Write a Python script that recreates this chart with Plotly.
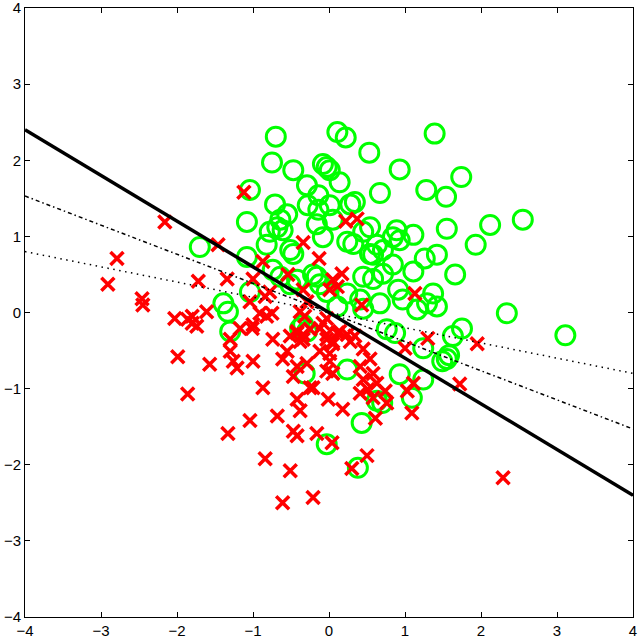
import plotly.graph_objects as go

# Class 1 (green circles)
green_x = [-0.70, 0.11, 0.22, 1.39, 0.53, -0.75, -0.47, -0.08, -0.03, 0.01, 0.93, 1.74, 0.14, -0.29,
           0.67, 1.28, 1.54, -1.04, -0.14, 0.34, -0.71, -0.28, -0.14, 0.01, 0.28, -0.55, -0.64, -0.68,
           -0.61, -1.08, -0.78, -0.16, 0.05, -0.08, -0.82, -0.51, -1.70, 0.24, -1.08, -0.74, -0.64, -0.42,
           -0.16, -1.39, 1.55, 2.12, 2.55, 1.93, 1.66, 1.11, 0.89, 0.84, 0.93, 0.54, 0.45, 0.63, 0.54,
           0.71, 1.42, 1.26, 0.84, 0.71, 0.58, 0.45, 1.11, 0.32, 1.37, 0.91, 2.34, 0.76, 0.87, 1.75,
           1.63, 1.24, 1.55, 1.49, 0.93, 1.24, 0.70, 1.09, 0.43, 0.38, 0.41, 0.67, 1.16, 1.42, 1.29,
           0.97, -1.33, -1.30, -0.32, -0.03, -0.38, -0.29, 0.11, 0.24, 3.11, -1.04, -0.51, -0.21, -0.12,
           -0.03, -0.34, 0.58, 0.24, 0.45, 0.63, -0.47, 1.58]
green_y = [2.31, 2.37, 2.30, 2.35, 2.10, 1.97, 1.87, 1.95, 1.91, 1.87, 1.88, 1.78, 1.71, 1.67,
           1.57, 1.61, 1.52, 1.61, 1.54, 1.45, 1.42, 1.41, 1.35, 1.41, 1.42, 1.29, 1.22, 1.12,
           1.08, 1.19, 1.06, 1.16, 1.22, 0.99, 0.89, 0.82, 0.86, 0.93, 0.73, 0.56, 0.47, 0.43,
           0.47, 0.12, 1.10, 1.15, 1.22, 0.89, 0.50, 1.02, 1.08, 0.99, 0.95, 1.12, 1.06, 0.89, 0.77,
           0.82, 0.76, 0.71, 0.63, 0.51, 0.44, 0.47, 0.54, 0.90, 0.25, 0.30, -0.01, -0.22, -0.27, -0.21,
           -0.31, -0.47, -0.61, -0.64, -0.81, -0.88, -1.19, -1.12, -1.45, -2.04, 0.17, 0.12, 0.04, 0.08, 0.12,
           0.17, 0.01, -0.25, -0.80, -1.73, -0.21, -0.25, 0.08, -0.75, -0.30, 0.27, 0.37, 0.50, 0.37,
           0.27, -0.16, 0.76, 0.25, 0.05, -1.16, 0.77, -0.56]

# Class 2 (red crosses)
red_x = [-1.12, -2.16, -1.46, -0.34, -0.13, -0.87, 0.22, 0.37, -2.79, -2.91, -1.72, -1.34, -2.46, -2.45,
         -2.03, -1.80, -1.80, -1.86, -1.74, -1.61, -1.04, -1.99, -1.57, -1.30, -1.26, -1.21, -1.00, -1.86,
         -1.00, -0.54, -0.78, -0.34, 0.05, 0.11, 0.01, 0.17, -1.17, -1.01, -1.30, -0.74, -0.75, -0.42,
         -0.34, -0.25, -0.61, -0.42, -0.47, -0.87, -0.25, -0.42, -0.38, -0.01, 0.05, 0.18, 0.01, 0.05,
         -0.03, 0.11, -0.68, -1.04, -1.33, -0.47, -0.42, -0.16, 0.04, -0.84, -0.51, 0.30, -0.61, -0.21,
         0.50, 0.43, 1.30, 1.95, 1.00, 1.72, 1.11, 1.03, 0.74, 0.76, 1.09, 0.61, 2.29, 0.34, 1.13,
         0.45, 0.54, 0.41, 0.58, 0.45, 0.63, 0.51, 0.41, 0.58, -0.84, -0.29, -0.38, -0.32, -0.03, -0.08,
         -0.91, -0.82, -1.00, -0.51, -0.42, -0.38, -0.34, -0.12, -0.03, 0.05, 0.14, 0.24, 0.28, -0.55,
         -0.29, -0.12, 0.01, -0.03, -0.21]
red_y = [1.58, 1.19, 0.89, 0.92, 0.71, 0.67, 1.20, 1.23, 0.71, 0.37, 0.41, 0.44, 0.18, 0.10,
         -0.08, -0.05, -0.14, -0.09, -0.18, 0.01, 0.14, -0.58, -0.68, -0.51, -0.64, -0.73, -0.64, -1.07,
         0.44, 0.50, 0.27, 0.30, 0.43, 0.34, 0.30, 0.51, -0.21, -0.21, -0.35, -0.35, -0.01, -0.27,
         -0.35, -0.22, -0.61, -0.71, -0.84, -0.99, -0.99, -1.14, -1.29, -1.14, -0.80, -1.27, -0.54, -0.41,
         -0.35, -0.27, -1.36, -1.42, -1.59, -1.56, -1.62, -1.59, -1.71, -1.92, -2.08, -2.05, -2.50, -2.43,
         -1.88, 0.10, -0.34, -0.41, -0.47, -0.94, -0.93, -1.03, -1.03, -1.19, -1.32, -1.39, -2.17, -0.31, 0.25,
         -0.48, -0.61, -0.71, -0.80, -0.88, -0.93, -1.01, -1.06, -1.12, 0.21, 0.14, 0.01, -0.05, -0.08, -0.14,
         -0.01, -0.05, -0.16, -0.31, -0.25, -0.38, -0.29, -0.21, -0.29, -0.38, -0.25, -0.29, -0.38, -0.51,
         -0.67, -0.51, -0.64, -0.77, -0.99]

# Decision lines (endpoints at x = -4 and x = 4)
line_x = [-4, 4]
solid_y = [2.4, -2.4]
dashdot_y = [1.53, -1.53]
dotted_y = [0.80, -0.80]

tick_vals = [-4, -3, -2, -1, 0, 1, 2, 3, 4]

fig = go.Figure()
fig.add_trace(go.Scatter(x=green_x, y=green_y, mode="markers",
                         marker=dict(symbol="circle-open", size=19, color="#00FF00",
                                     line=dict(width=3, color="#00FF00"))))
fig.add_trace(go.Scatter(x=red_x, y=red_y, mode="markers",
                         marker=dict(symbol="x-thin-open", size=13, color="#FF0000",
                                     line=dict(width=3.5, color="#FF0000"))))
fig.add_trace(go.Scatter(x=line_x, y=dotted_y, mode="lines",
                         line=dict(color="black", width=1.5, dash="1.5px,4.5px")))
fig.add_trace(go.Scatter(x=line_x, y=dashdot_y, mode="lines",
                         line=dict(color="black", width=1.5, dash="4px,3px,1.5px,3px")))
fig.add_trace(go.Scatter(x=line_x, y=solid_y, mode="lines",
                         line=dict(color="black", width=3.5)))

axis_common = dict(range=[-4, 4], tickvals=tick_vals, ticks="inside", ticklen=5,
                   tickcolor="black", tickwidth=1, showgrid=False, zeroline=False,
                   showline=True, linecolor="black", linewidth=1, mirror="ticks",
                   automargin=False, ticklabeloverflow="allow",
                   tickfont=dict(family="Liberation Sans, Arial, sans-serif", size=15, color="black"))

fig.update_layout(
    width=641, height=639,
    margin=dict(l=25, r=8, t=8, b=22, autoexpand=False),
    paper_bgcolor="white", plot_bgcolor="white",
    showlegend=False,
    xaxis=dict(**axis_common),
    yaxis=dict(**axis_common, ticklabelstandoff=0),
)

fig.write_html("out.html", config={"displayModeBar": False},
               post_script="document.body.style.margin='0px';document.body.style.padding='0px';")
